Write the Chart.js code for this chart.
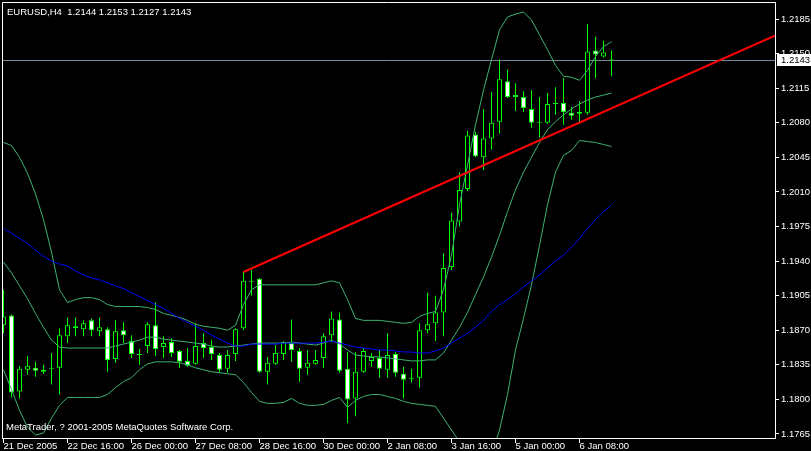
<!DOCTYPE html>
<html><head><meta charset="utf-8">
<script src="https://cdn.jsdelivr.net/npm/chart.js@4.4.1/dist/chart.umd.min.js"></script>
<style>html,body{margin:0;padding:0;background:#000;overflow:hidden}canvas{display:block}</style>
</head><body>
<canvas id="c" width="811" height="451"></canvas>
<script>
const symbolTitle = 'EURUSD,H4';
const copyright = 'MetaTrader, ? 2001-2005 MetaQuotes Software Corp.';

const opens = [1.1875,1.1885,1.1808,1.1830,1.1832,1.1830,1.1831,1.1832,1.1864,1.1872,
 1.1871,1.1880,1.1869,1.1871,1.1841,1.1870,1.1859,1.1845,1.1854,1.1875,
 1.1853,1.1858,1.1849,1.1839,1.1836,1.1857,1.1853,1.1845,1.1831,1.1846,
 1.1872,1.1919,1.1922,1.1828,1.1836,1.1846,1.1857,1.1849,1.1832,1.1836,
 1.1842,1.1865,1.1881,1.1831,1.1801,1.1828,1.1839,1.1842,1.1830,1.1846,
 1.1826,1.1821,1.1822,1.1870,1.1877,1.1888,1.1934,1.1980,1.2013,1.2068,
 1.2045,1.2064,1.2081,1.2122,1.2106,1.2106,1.2094,1.2080,1.2080,1.2099,
 1.2100,1.2090,1.2089,1.2090,1.2153,1.2147,1.2144];
const highs = [1.1911,1.1886,1.1834,1.1844,1.1838,1.1835,1.1847,1.1872,1.1883,1.1883,
 1.1880,1.1882,1.1883,1.1873,1.1880,1.1878,1.1865,1.1851,1.1878,1.1898,
 1.1864,1.1862,1.1850,1.1852,1.1877,1.1867,1.1860,1.1847,1.1850,1.1872,
 1.1929,1.1931,1.1923,1.1843,1.1855,1.1859,1.1881,1.1852,1.1850,1.1850,
 1.1867,1.1889,1.1888,1.1848,1.1848,1.1852,1.1847,1.1850,1.1867,1.1848,
 1.1833,1.1831,1.1877,1.1908,1.1905,1.1948,1.1989,1.2030,1.2072,1.2071,
 1.2094,1.2111,1.2144,1.2134,1.2120,1.2112,1.2113,1.2106,1.2110,1.2116,
 1.2125,1.2096,1.2102,1.2180,1.2167,1.2163,1.2153];
const lows = [1.1867,1.1802,1.1801,1.1825,1.1823,1.1826,1.1815,1.1805,1.1857,1.1864,
 1.1864,1.1864,1.1864,1.1828,1.1837,1.1857,1.1842,1.1835,1.1847,1.1844,
 1.1842,1.1843,1.1832,1.1833,1.1835,1.1842,1.1840,1.1827,1.1827,1.1839,
 1.1870,1.1905,1.1827,1.1815,1.1835,1.1840,1.1838,1.1818,1.1825,1.1835,
 1.1832,1.1858,1.1827,1.1776,1.1783,1.1827,1.1833,1.1822,1.1822,1.1823,
 1.1801,1.1817,1.1812,1.1867,1.1859,1.1864,1.1931,1.1975,1.2011,1.2045,
 1.2032,1.2053,1.2069,1.2105,1.2092,1.2091,1.2075,1.2065,1.2079,1.2088,
 1.2078,1.2083,1.2079,1.2088,1.2125,1.2146,1.2127];
const closes = [1.1884,1.1807,1.1831,1.1834,1.1829,1.1828,1.1831,1.1865,1.1875,1.1874,
 1.1877,1.1870,1.1873,1.1840,1.1869,1.1865,1.1846,1.1845,1.1876,1.1851,
 1.1857,1.1847,1.1838,1.1834,1.1854,1.1852,1.1846,1.1830,1.1845,1.1871,
 1.1920,1.1919,1.1828,1.1837,1.1847,1.1858,1.1850,1.1831,1.1837,1.1840,
 1.1864,1.1882,1.1829,1.1800,1.1828,1.1849,1.1843,1.1831,1.1845,1.1827,
 1.1820,1.1821,1.1870,1.1876,1.1888,1.1933,1.1981,1.2012,1.2067,1.2046,
 1.2064,1.2080,1.2124,1.2106,1.2108,1.2095,1.2080,1.2081,1.2099,1.2099,
 1.2091,1.2087,1.2091,1.2152,1.2149,1.2151,1.2143];

const upperBand = [1.2060,1.2057,1.2045,1.2029,1.2008,1.1982,1.1949,1.1911,1.1898,1.1901,
 1.1903,1.1903,1.1901,1.1896,1.1894,1.1894,1.1894,1.1894,1.1893,1.1891,
 1.1887,1.1885,1.1883,1.1880,1.1876,1.1874,1.1873,1.1872,1.1870,1.1875,
 1.1896,1.1911,1.1916,1.1916,1.1916,1.1916,1.1916,1.1916,1.1916,1.1916,
 1.1918,1.1920,1.1918,1.1901,1.1882,1.1880,1.1880,1.1880,1.1879,1.1878,
 1.1877,1.1878,1.1884,1.1887,1.1889,1.1911,1.1946,1.1997,1.2037,1.2078,
 1.2113,1.2144,1.2174,1.2187,1.2190,1.2192,1.2184,1.2169,1.2154,1.2138,
 1.2127,1.2126,1.2123,1.2133,1.2147,1.2157,1.2162];
const middleBand = [1.1939,1.1928,1.1915,1.1902,1.1887,1.1873,1.1860,1.1853,1.1852,1.1852,
 1.1852,1.1852,1.1852,1.1852,1.1854,1.1856,1.1858,1.1860,1.1863,1.1863,
 1.1861,1.1860,1.1859,1.1858,1.1857,1.1856,1.1854,1.1853,1.1853,1.1854,
 1.1855,1.1856,1.1857,1.1857,1.1857,1.1857,1.1858,1.1857,1.1856,1.1855,
 1.1857,1.1860,1.1856,1.1850,1.1845,1.1844,1.1843,1.1843,1.1842,1.1841,
 1.1840,1.1839,1.1839,1.1840,1.1840,1.1847,1.1860,1.1873,1.1888,1.1906,
 1.1924,1.1944,1.1966,1.1990,1.2012,1.2030,1.2045,1.2060,1.2073,1.2081,
 1.2088,1.2094,1.2099,1.2103,1.2106,1.2108,1.2110];
const lowerBand = [1.1830,1.1810,1.1789,1.1772,1.1764,1.1766,1.1781,1.1794,1.1802,1.1802,
 1.1802,1.1802,1.1802,1.1805,1.1812,1.1818,1.1822,1.1830,1.1836,1.1838,
 1.1838,1.1838,1.1837,1.1835,1.1832,1.1830,1.1828,1.1827,1.1826,1.1825,
 1.1817,1.1807,1.1798,1.1796,1.1796,1.1797,1.1801,1.1796,1.1794,1.1794,
 1.1795,1.1799,1.1802,1.1792,1.1799,1.1803,1.1805,1.1805,1.1803,1.1801,
 1.1798,1.1796,1.1795,1.1794,1.1793,1.1781,1.1769,1.1757,1.1744,1.1734,
 1.1734,1.1744,1.1769,1.1805,1.1850,1.1882,1.1916,1.1956,1.1997,1.2030,
 1.2047,1.2052,1.2062,1.2061,1.2060,1.2058,1.2056];
const maLine = [1.1973,1.1968,1.1963,1.1958,1.1951,1.1945,1.1940,1.1937,1.1935,1.1930,
 1.1926,1.1923,1.1921,1.1918,1.1915,1.1912,1.1908,1.1904,1.1900,1.1896,
 1.1892,1.1887,1.1882,1.1878,1.1874,1.1870,1.1865,1.1861,1.1857,1.1854,
 1.1854,1.1856,1.1856,1.1856,1.1856,1.1857,1.1857,1.1857,1.1857,1.1857,
 1.1858,1.1859,1.1857,1.1855,1.1853,1.1852,1.1851,1.1850,1.1850,1.1849,
 1.1848,1.1848,1.1847,1.1847,1.1849,1.1852,1.1857,1.1862,1.1867,1.1873,
 1.1880,1.1889,1.1896,1.1901,1.1907,1.1914,1.1920,1.1926,1.1933,1.1940,
 1.1946,1.1954,1.1963,1.1973,1.1982,1.1990,1.1997];

const trendIndex = [30, 100];
const trendPrice = [1.1929, 1.2181];

const xTickIndex = [0, 8, 16, 24, 32, 40, 48, 56, 64, 72];
const xTickLabels = ['21 Dec 2005','22 Dec 16:00','26 Dec 00:00','27 Dec 08:00','28 Dec 16:00',
 '30 Dec 00:00','2 Jan 08:00','3 Jan 16:00','5 Jan 00:00','6 Jan 08:00'];
const yTicks = [1.1765,1.1800,1.1835,1.1870,1.1905,1.1940,1.1975,1.2010,1.2045,1.2080,1.2115,1.2150,1.2185];

const FAMILY = "'Liberation Sans', Arial, sans-serif";
const FSIZE = 9.5;
const FONT_CSS = FSIZE + 'px ' + FAMILY;
const BAND = '#3cb371';
const CANDLE = '#00ff00';

const last = closes.length - 1;
const bodyColors = closes.map((c, i) => c >= opens[i] ? '#000000' : '#ffffff');

const mtDecor = {
  id: 'mtDecor',
  beforeDraw(chart) {
    const {ctx, width, height} = chart;
    ctx.save(); ctx.fillStyle = '#000'; ctx.fillRect(0, 0, width, height); ctx.restore();
  },
  beforeDatasetsDraw(chart) {
    const {ctx, chartArea: a, scales: {y}} = chart;
    const py = Math.round(y.getPixelForValue(closes[last])) + 0.5;
    ctx.save(); ctx.strokeStyle = '#778899'; ctx.lineWidth = 1;
    ctx.beginPath(); ctx.moveTo(a.left, py); ctx.lineTo(a.right, py); ctx.stroke(); ctx.restore();
  },
  afterDraw(chart) {
    const {ctx, chartArea: a, scales: {y}} = chart;
    ctx.save();
    ctx.strokeStyle = '#fff'; ctx.lineWidth = 1;
    ctx.beginPath();
    ctx.moveTo(a.left + 0.5, a.bottom); ctx.lineTo(a.left + 0.5, a.top + 0.5); ctx.lineTo(a.right, a.top + 0.5);
    ctx.stroke();
    ctx.font = FONT_CSS; ctx.fillStyle = '#fff'; ctx.textAlign = 'left'; ctx.textBaseline = 'alphabetic';
    ctx.fillText(symbolTitle + '  ' + opens[last].toFixed(4) + ' ' + highs[last].toFixed(4) + ' ' +
      lows[last].toFixed(4) + ' ' + closes[last].toFixed(4), a.left + 5, a.top + 12.5);
    ctx.fillText(copyright, a.left + 4, a.bottom - 8.5);
    const py = Math.round(y.getPixelForValue(closes[last]));
    ctx.fillStyle = '#fff';
    ctx.fillRect(a.right + 2, py - 6, chart.width - a.right - 2, 12);
    ctx.fillStyle = '#000'; ctx.textBaseline = 'middle';
    ctx.fillText(closes[last].toFixed(4), a.right + 6, py + 0.5);
    ctx.restore();
  }
};

Chart.defaults.font.family = FAMILY;
Chart.defaults.font.size = FSIZE;

new Chart(document.getElementById('c'), {
  type: 'bar',
  data: {
    datasets: [
      {type: 'line', label: 'trend', data: trendIndex.map((x, i) => ({x, y: trendPrice[i]})),
       borderColor: '#ff0000', borderWidth: 2.2, pointRadius: 0, tension: 0, order: 0, clip: 0},
      {type: 'line', label: 'ma', data: maLine.map((y, x) => ({x, y})),
       borderColor: '#0000ff', borderWidth: 1, pointRadius: 0, tension: 0, order: 1, clip: 0},
      {type: 'line', label: 'upper', data: upperBand.map((y, x) => ({x, y})),
       borderColor: BAND, borderWidth: 1, pointRadius: 0, tension: 0, order: 2, clip: 0},
      {type: 'line', label: 'middle', data: middleBand.map((y, x) => ({x, y})),
       borderColor: BAND, borderWidth: 1, pointRadius: 0, tension: 0, order: 2, clip: 0},
      {type: 'line', label: 'lower', data: lowerBand.map((y, x) => ({x, y})),
       borderColor: BAND, borderWidth: 1, pointRadius: 0, tension: 0, order: 2, clip: 0},
      {type: 'bar', label: 'body', data: opens.map((o, i) => ({x: i, y: [o, closes[i]]})),
       backgroundColor: bodyColors, borderColor: CANDLE, borderWidth: 1, borderSkipped: false,
       maxBarThickness: 5, grouped: false, minBarLength: 1, inflateAmount: 0, order: 8, clip: 0},
      {type: 'bar', label: 'wick', data: lows.map((l, i) => ({x: i, y: [l, highs[i]]})),
       backgroundColor: CANDLE, borderWidth: 0, maxBarThickness: 1, grouped: false,
       minBarLength: 1, inflateAmount: 0, order: 9, clip: 0}
    ]
  },
  options: {
    responsive: false, animation: false, devicePixelRatio: 1, events: [],
    layout: {padding: {left: 2, top: 2, right: 0, bottom: 0}},
    plugins: {legend: {display: false}, tooltip: {enabled: false}, title: {display: false}},
    scales: {
      x: {
        type: 'linear', position: 'bottom', min: -0.1875, max: 96.4375, offset: false,
        grid: {display: true, drawOnChartArea: false, drawTicks: true, tickLength: 5, color: '#fff', offset: false},
        border: {display: true, color: '#fff', width: 1},
        ticks: {autoSkip: false, maxRotation: 0, minRotation: 0, align: 'start', padding: -2, color: '#fff',
          font: {family: FAMILY, size: FSIZE},
          callback: (v) => { const i = xTickIndex.indexOf(v); return i < 0 ? '' : xTickLabels[i]; }},
        afterBuildTicks: (s) => { s.ticks = xTickIndex.map(v => ({value: v})); },
        afterFit: (s) => { s.height = 13; s.paddingLeft = 0; s.paddingRight = 0; }
      },
      y: {
        type: 'linear', position: 'right', min: 1.176095, max: 1.2202205,
        grid: {display: true, drawOnChartArea: false, drawTicks: true, tickLength: 4, color: '#fff'},
        border: {display: true, color: '#fff', width: 1},
        ticks: {padding: 2, color: '#fff', font: {family: FAMILY, size: FSIZE}, callback: (v) => Number(v).toFixed(4)},
        afterBuildTicks: (s) => { s.ticks = yTicks.map(v => ({value: v})); },
        afterFit: (s) => { s.width = 36; s.paddingTop = 0; s.paddingBottom = 0; }
      }
    }
  },
  plugins: [mtDecor]
});
</script>
</body></html>
